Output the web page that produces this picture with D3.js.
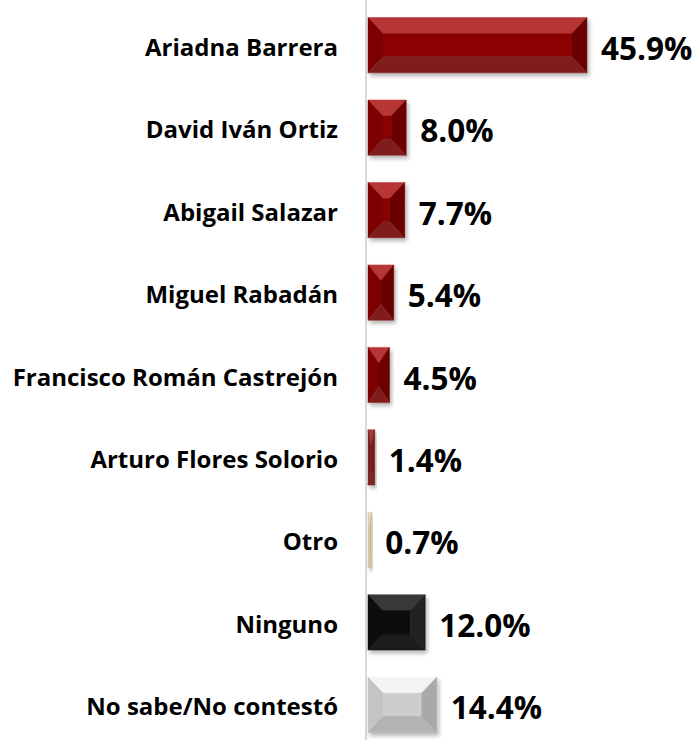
<!DOCTYPE html>
<html>
<head>
<meta charset="utf-8">
<script src="https://cdn.jsdelivr.net/npm/d3@7"></script>
<style>
  body { margin: 0; background: #fff; }
  text { font-family: "Open Sans", "DejaVu Sans", sans-serif; font-weight: 700; fill: #000; }
</style>
</head>
<body>
<div id="chart"></div>
<script>
// data
const candidates = [
  "Ariadna Barrera",
  "David Iván Ortiz",
  "Abigail Salazar",
  "Miguel Rabadán",
  "Francisco Román Castrejón",
  "Arturo Flores Solorio",
  "Otro",
  "Ninguno",
  "No sabe/No contestó"
];
const percents = [45.9, 8.0, 7.7, 5.4, 4.5, 1.4, 0.7, 12.0, 14.4];
const labels = ["45.9%", "8.0%", "7.7%", "5.4%", "4.5%", "1.4%", "0.7%", "12.0%", "14.4%"];
const barKinds = ["red", "red", "red", "red", "red", "brown", "tan", "black", "grey"];

// bevel colours: top, left, center, right, bottom
const palettes = {
  red:   ["#b73436", "#7c0303", "#8b0606", "#6a0000", "#7f1e1f"],
  brown: ["#9e3a3a", "#7d2020", "#8a2a2a", "#6e1a1a", "#7a2525"],
  tan:   ["#e8dcc0", "#d9c9a3", "#ddd0b0", "#cbb98e", "#d3c29c"],
  black: ["#383838", "#101010", "#0a0a0a", "#202020", "#1a1a1a"],
  grey:  ["#f4f4f4", "#c4c4c4", "#cdcdcd", "#a9a9a9", "#b3b3b3"]
};

const width = 697, height = 740;

const svg = d3.select("#chart").append("svg")
  .attr("width", width)
  .attr("height", height);

const defs = svg.append("defs");
const shadow = defs.append("filter").attr("id", "shadow")
  .attr("x", "-20%").attr("y", "-20%").attr("width", "140%").attr("height", "150%");
shadow.append("feDropShadow")
  .attr("dx", 2).attr("dy", 3).attr("stdDeviation", 2)
  .attr("flood-color", "#000").attr("flood-opacity", 0.3);

const x = d3.scaleLinear().domain([0, 50]).range([368, 606.5]);
const y = d3.scaleBand().domain(candidates).range([4, 746])
  .paddingInner(0.33).paddingOuter(0.165);

// axis line
svg.append("line")
  .attr("x1", 366).attr("x2", 366)
  .attr("y1", 0).attr("y2", height)
  .attr("stroke", "#d9d9d9").attr("stroke-width", 2);

// bevelled bars
const bars = svg.selectAll(".bar").data(percents).enter()
  .append("g").attr("class", "bar")
  .attr("filter", "url(#shadow)");

bars.each(function (d, i) {
  const g = d3.select(this);
  const x0 = x(0), x1 = x(d);
  const y0 = y(candidates[i]), y1 = y0 + y.bandwidth();
  const w = x1 - x0, h = y1 - y0;
  const bx = Math.min(15, w / 2), by = Math.min(16, h / 2);
  const c = palettes[barKinds[i]];
  const ix0 = x0 + bx, ix1 = x1 - bx, iy0 = y0 + by, iy1 = y1 - by;
  const polys = [
    [[x0, y0], [x1, y0], [ix1, iy0], [ix0, iy0]],          // top
    [[x0, y0], [ix0, iy0], [ix0, iy1], [x0, y1]],          // left
    [[ix0, iy0], [ix1, iy0], [ix1, iy1], [ix0, iy1]],      // center
    [[x1, y0], [x1, y1], [ix1, iy1], [ix1, iy0]],          // right
    [[x0, y1], [ix0, iy1], [ix1, iy1], [x1, y1]]           // bottom
  ];
  g.selectAll("path").data(polys).enter().append("path")
    .attr("d", p => "M" + p.join("L") + "Z")
    .attr("fill", (p, k) => c[k])
    .attr("stroke", (p, k) => c[k])
    .attr("stroke-width", 0.5);
});

// category labels
svg.selectAll(".cat").data(candidates).enter()
  .append("text").attr("class", "cat")
  .attr("x", 338)
  .attr("y", d => y(d) + y.bandwidth() / 2 + 1)
  .attr("text-anchor", "end")
  .attr("dominant-baseline", "central")
  .style("font-size", "24px")
  .text(d => d);

// value labels
svg.selectAll(".val").data(percents).enter()
  .append("text").attr("class", "val")
  .attr("x", d => x(d) + 14)
  .attr("y", (d, i) => y(candidates[i]) + y.bandwidth() / 2 + 2)
  .attr("dominant-baseline", "central")
  .style("font-size", "31.5px")
  .text((d, i) => labels[i]);
</script>
</body>
</html>
